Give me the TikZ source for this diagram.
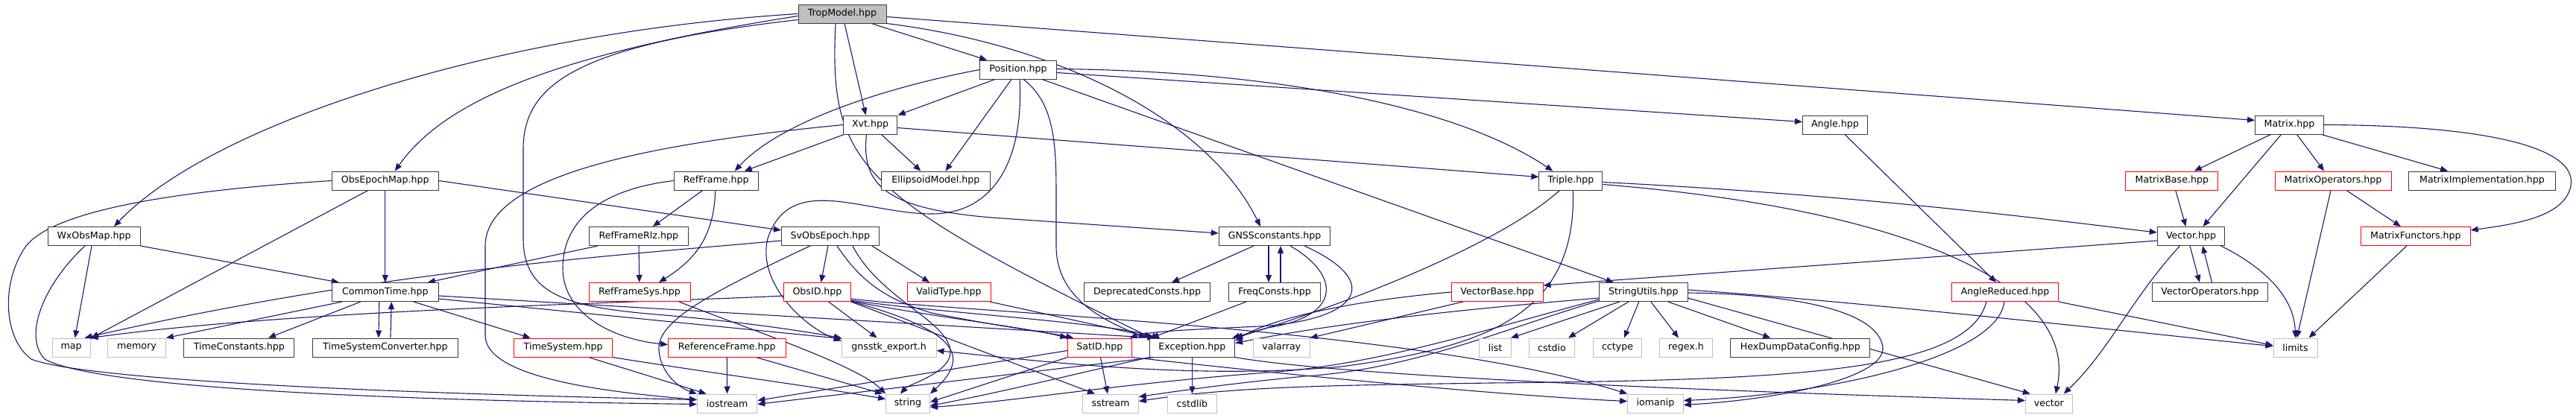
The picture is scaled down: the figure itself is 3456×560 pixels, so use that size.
\documentclass[tikz,border=0pt]{standalone}
\usepackage{fontspec}
\setmainfont{DejaVu Sans}
\usetikzlibrary{arrows.meta}
\definecolor{edgec}{HTML}{191970}
\definecolor{gbord}{HTML}{BFBFBF}
\definecolor{rbord}{HTML}{FF0000}
\definecolor{kbord}{HTML}{3A3A3A}
\definecolor{rootfill}{HTML}{BFBFBF}
\pgfdeclarelayer{bg}
\pgfsetlayers{bg,main}
\begin{document}
\begin{tikzpicture}[x=1pt,y=-1pt,
  kb/.style={draw=kbord, line width=1pt, minimum height=25pt, inner sep=0pt,
    font=\fontsize{12.6}{14}\selectfont, text=black, fill=white},
  rb/.style={kb, draw=rbord},
  gb/.style={kb, draw=gbord},
  rootn/.style={kb, fill=rootfill},
  e/.style={draw=edgec, line width=1.1pt, -{Triangle[length=10pt,width=8pt]}}]
\useasboundingbox (0,0) rectangle (3456,560);
% row 0
\node[rootn, minimum width=118] (T) at (1130,18.5) {TropModel.hpp};
% row 1
\node[kb, minimum width=102.5] (P) at (1366,93.5) {Position.hpp};
% row 2
\node[kb, minimum width=72] (X) at (1167.5,167.5) {Xvt.hpp};
\node[kb, minimum width=87] (Ang) at (2462,167.5) {Angle.hpp};
\node[kb, minimum width=92] (M) at (3071.5,167.5) {Matrix.hpp};
% row 3
\node[kb, minimum width=143] (OEM) at (516.8,242.5) {ObsEpochMap.hpp};
\node[kb, minimum width=113] (RF) at (960.7,242.5) {RefFrame.hpp};
\node[kb, minimum width=146] (EM) at (1255.4,242.5) {EllipsoidModel.hpp};
\node[kb, minimum width=85] (Tr) at (2107.4,242.5) {Triple.hpp};
\node[rb, minimum width=124] (MB) at (2913.8,242.5) {MatrixBase.hpp};
\node[rb, minimum width=156] (MO) at (3130,242.5) {MatrixOperators.hpp};
\node[kb, minimum width=196.5] (MI) at (3330,242.5) {MatrixImplementation.hpp};
% row 4
\node[kb, minimum width=124] (W) at (126,317) {WxObsMap.hpp};
\node[kb, minimum width=133.6] (RFR) at (856.8,317) {RefFrameRlz.hpp};
\node[kb, minimum width=131] (S) at (1113.9,317) {SvObsEpoch.hpp};
\node[kb, minimum width=149.5] (G) at (1710,317) {GNSSconstants.hpp};
\node[kb, minimum width=90.5] (V) at (2939.5,317) {Vector.hpp};
\node[rb, minimum width=146.7] (MF) at (3240.9,317) {MatrixFunctors.hpp};
% row 5
\node[kb, minimum width=143] (CT) at (516.8,392) {CommonTime.hpp};
\node[rb, minimum width=136] (RFS) at (858,392) {RefFrameSys.hpp};
\node[rb, minimum width=89.5] (O) at (1096.5,392) {ObsID.hpp};
\node[rb, minimum width=112] (VT) at (1273,392) {ValidType.hpp};
\node[kb, minimum width=169.5] (DC) at (1539,392) {DeprecatedConsts.hpp};
\node[kb, minimum width=122.7] (FC) at (1710,392) {FreqConsts.hpp};
\node[rb, minimum width=122.4] (VB) at (2008.8,392) {VectorBase.hpp};
\node[kb, minimum width=118.6] (SU) at (2204.8,392) {StringUtils.hpp};
\node[rb, minimum width=142.7] (AR) at (2690,392) {AngleReduced.hpp};
\node[kb, minimum width=155] (VO) at (2965,392) {VectorOperators.hpp};
% row 6
\node[gb, minimum width=51] (map) at (95.5,466.5) {map};
\node[gb, minimum width=77.7] (memory) at (183.5,466.5) {memory};
\node[kb, minimum width=148] (TC) at (320.9,466.5) {TimeConstants.hpp};
\node[kb, minimum width=195] (TSC) at (516.9,466.5) {TimeSystemConverter.hpp};
\node[rb, minimum width=131.6] (TS) at (755.6,466.5) {TimeSystem.hpp};
\node[rb, minimum width=157.6] (RefF) at (975.2,466.5) {ReferenceFrame.hpp};
\node[gb, minimum width=126.6] (GE) at (1192.7,466.5) {gnsstk\_export.h};
\node[rb, minimum width=85.3] (SID) at (1475.4,466.5) {SatID.hpp};
\node[kb, minimum width=114.4] (E) at (1599.4,466.5) {Exception.hpp};
\node[gb, minimum width=75.5] (VA) at (1719.3,466.5) {valarray};
\node[gb, minimum width=42.5] (list) at (2006,466.5) {list};
\node[gb, minimum width=61.6] (cstdio) at (2082,466.5) {cstdio};
\node[gb, minimum width=65.5] (cctype) at (2170,466.5) {cctype};
\node[gb, minimum width=70.8] (regex) at (2262,466.5) {regex.h};
\node[kb, minimum width=187] (HD) at (2415.3,466.5) {HexDumpDataConfig.hpp};
\node[gb, minimum width=59] (lim) at (3079.5,466.5) {limits};
% row 7
\node[gb, minimum width=80.4] (ios) at (975.6,541.5) {iostream};
\node[gb, minimum width=59] (str) at (1218,541.5) {string};
\node[gb, minimum width=74.6] (sst) at (1490,541.5) {sstream};
\node[gb, minimum width=65.4] (cstdlib) at (1599.4,541.5) {cstdlib};
\node[gb, minimum width=74.6] (iom) at (2221,541.5) {iomanip};
\node[gb, minimum width=62.7] (vec) at (2748.8,541.5) {vector};

\begin{pgfonlayer}{bg}
% TropModel
\draw[e] (T.west) .. controls (650,45) and (280,170) .. ([xshift=27]W.north);
\draw[e] ([yshift=-3]T.west) .. controls (760,70) and (600,130) .. ([xshift=13]OEM.north);
\draw[e] ([yshift=-8]T.west) .. controls (780,60) and (702,110) .. (702,200) -- (702,320) .. controls (702,395) and (760,412) .. (880,422) .. controls (1000,432) and (1080,445) .. (GE.north west);
\draw[e] ([xshift=3]T.south) -- ([xshift=-6]X.north);
\draw[e] ([xshift=-9]T.south) .. controls (1112,220) and (1150,260) .. ([xshift=3]E.north west);
\draw[e] ([xshift=39]T.south) -- ([xshift=-42]P.north);
\draw[e] (T.south east) .. controls (1420,60) and (1620,160) .. ([xshift=-19]G.north);
\draw[e] ([yshift=-4]T.east) -- ([yshift=6]M.west);
% Position
\draw[e] ([xshift=-31]P.south) -- ([xshift=37]X.north);
\draw[e] (P.west) .. controls (1200,115) and (1050,160) .. ([xshift=25]RF.north);
\draw[e] ([xshift=-9]P.south) -- ([xshift=13]EM.north);
\draw[e] ([xshift=2]P.south) .. controls (1374,220) and (1330,287) .. (1250,287) .. controls (1160,287) and (1060,230) .. (1030,320) .. controls (1015,380) and (1080,440) .. ([yshift=-4]GE.north west);
\draw[e] ([xshift=7]P.south) .. controls (1417,140) and (1417,200) .. (1417,270) -- (1417,330) .. controls (1417,400) and (1480,430) .. ([xshift=-4]E.north west);
\draw[e] ([xshift=32]P.south) -- ([xshift=-40]SU.north);
\draw[e] ([yshift=1]P.east) .. controls (1700,95) and (1950,140) .. ([xshift=-24]Tr.north);
\draw[e] ([yshift=-4]P.east) -- ([yshift=4]Ang.west);
% Xvt
\draw[e] ([xshift=-35]X.south) -- ([xshift=38]RF.north);
\draw[e] ([xshift=15]X.south) -- ([xshift=-20]EM.north);
\draw[e] ([yshift=-4]X.east) -- ([yshift=5]Tr.west);
\draw[e] ([xshift=-5]X.south) .. controls (1155,250) and (1190,280) .. (1330,292) -- ([yshift=4]G.west);
\draw[e] (X.west) .. controls (900,190) and (651,230) .. (651,330) -- (651,450) .. controls (651,505) and (800,525) .. ([yshift=5]ios.west);
% Angle
\draw[e] ([xshift=13]Ang.south) -- ([xshift=-12]AR.north);
% Matrix
\draw[e] ([xshift=-25]M.south) -- ([xshift=30]MB.north);
\draw[e] ([xshift=-11]M.south) -- ([xshift=16]V.north);
\draw[e] ([xshift=10]M.south) -- ([xshift=-12]MO.north);
\draw[e] ([xshift=43]M.south) -- ([xshift=-46]MI.north);
\draw[e] (M.east) .. controls (3300,168) and (3460,190) .. (3449,250) .. controls (3440,290) and (3380,300) .. ([yshift=8]MF.east);
\draw[e] ([xshift=5]MB.south) -- ([xshift=-7]V.north);
\draw[e] ([xshift=-3]MO.south) -- ([xshift=2]lim.north);
\draw[e] ([xshift=18]MO.south) -- ([xshift=-20]MF.north);
\draw[e] ([xshift=-12]MF.south) -- ([xshift=18]lim.north);
% Vector
\draw[e] ([xshift=-1.5]V.south) -- ([xshift=-14]VO.north);
\draw[e] ([xshift=2.5]VO.north) -- ([xshift=15.5]V.south);
\draw[e] ([xshift=40]V.south) .. controls (3040,360) and (3078,400) .. (lim.north);
\draw[e] ([xshift=-15]V.south) .. controls (2860,400) and (2830,470) .. ([xshift=20]vec.north);
\draw[e] ([yshift=-6]V.west) -- ([yshift=9]VB.east);
% Triple
\draw[e] ([yshift=-2]Tr.east) .. controls (2500,262) and (2750,295) .. ([yshift=5]V.west);
\draw[e] ([yshift=-5]Tr.east) .. controls (2550,280) and (2790,380) .. ([xshift=9]vec.north);
\draw[e] ([xshift=-15]Tr.south) .. controls (2010,330) and (1800,410) .. (E.north east);
\draw[e] ([xshift=3]Tr.south) .. controls (2115,420) and (2000,465) .. (1800,492) .. controls (1600,510) and (1400,485) .. ([yshift=-4]GE.east);
% GNSSconstants
\draw[e] ([xshift=-28]G.south) -- ([xshift=33]DC.north);
\draw[e] ([xshift=-8]G.south) -- ([xshift=-8]FC.north);
\draw[e] ([xshift=8]FC.north) -- ([xshift=8]G.south);
\draw[e] ([xshift=21]G.south) .. controls (1800,370) and (1800,425) .. (1700,440) -- ([xshift=-4]E.north east);
\draw[e] ([xshift=40]G.south) .. controls (1860,380) and (1820,430) .. (1690,438) .. controls (1600,442) and (1540,445) .. ([xshift=-3]SID.north east);
\draw[e] ([xshift=-38]FC.south) -- ([xshift=3]E.north west);
% WxObsMap
\draw[e] (W.south east) -- ([xshift=-62]CT.north);
\draw[e] ([xshift=-3]W.south) -- ([xshift=5]map.north);
\draw[e] ([xshift=-12]W.south) .. controls (60,380) and (30,450) .. (60,482) .. controls (110,510) and (350,535) .. ([yshift=-1]ios.west);
% ObsEpochMap
\draw[e] (OEM) -- (CT);
\draw[e] ([xshift=-23]OEM.south) -- ([xshift=27]map.north);
\draw[e] (OEM.east) -- ([yshift=8]S.west);
\draw[e] (OEM.west) .. controls (250,255) and (75,280) .. (35,330) .. controls (0,380) and (5,455) .. (42,482) .. controls (100,505) and (400,525) .. ([yshift=5]ios.west);
% RefFrame
\draw[e] ([xshift=-18]RF.south) -- ([xshift=19]RFR.north);
\draw[e] ([xshift=-1]RF.south) .. controls (958,320) and (930,350) .. ([xshift=26]RFS.north);
\draw[e] (RF.west) .. controls (800,255) and (755,300) .. (755,360) .. controls (755,420) and (820,455) .. ([yshift=4]RefF.west);
% RefFrameRlz
\draw[e] (RFR) -- (RFS);
\draw[e] ([xshift=-55]RFR.south) -- ([xshift=57]CT.north);
% RefFrameSys
\draw[e] ([xshift=53]RFS.south) .. controls (1000,440) and (1150,490) .. (str.north west);
% CommonTime
\draw[e] ([xshift=-58]CT.south) -- (memory.north east);
\draw[e] ([xshift=-33]CT.south) -- ([xshift=39]TC.north);
\draw[e] ([xshift=-8]CT.south) -- ([xshift=-9]TSC.north);
\draw[e] ([xshift=7]TSC.north) -- ([xshift=8.5]CT.south);
\draw[e] ([xshift=38]CT.south) -- ([xshift=-44]TS.north);
\draw[e] ([yshift=-9]CT.east) -- ([yshift=-1]GE.north west);
\draw[e] ([yshift=-5]CT.east) -- ([xshift=8]E.north west);
% TimeSystem
\draw[e] ([xshift=34]TS.south) -- ([xshift=-28]ios.north);
\draw[e] (TS.south east) .. controls (950,500) and (1100,520) .. ([yshift=6]str.west);
% ReferenceFrame
\draw[e] (RefF) -- (ios);
\draw[e] ([xshift=39]RefF.south) -- ([xshift=-4]str.north west);
% ObsID
\draw[e] ([yshift=-5]O.west) .. controls (900,405) and (400,415) .. (map.north east);
\draw[e] ([xshift=15]O.south) -- ([xshift=-16]GE.north);
\draw[e] ([yshift=-12]O.east) .. controls (1250,425) and (1380,440) .. (SID.north west);
\draw[e] ([yshift=-11]O.east) .. controls (1260,420) and (1480,432) .. ([xshift=14]E.north west);
\draw[e] ([yshift=-12.5]O.east) .. controls (1290,445) and (1300,480) .. (str.north east);
\draw[e] (O.south east) -- ([xshift=-21]sst.north);
\draw[e] ([yshift=-9]O.east) .. controls (1300,420) and (1900,440) .. (iom.north west);
% SvObsEpoch
\draw[e] ([xshift=-3]S.south) -- ([xshift=5]O.north);
\draw[e] ([xshift=56]S.south) -- ([xshift=-26]VT.north);
\draw[e] ([yshift=-6]S.west) .. controls (800,345) and (500,365) .. ([xshift=18]map.north);
\draw[e] ([xshift=-27]S.south) .. controls (960,390) and (880,430) .. (884,470) .. controls (886,500) and (910,520) .. (ios.north west);
\draw[e] ([xshift=9]S.south) .. controls (1150,370) and (1180,400) .. (1250,420) .. controls (1350,440) and (1400,445) .. ([xshift=8]SID.north west);
\draw[e] ([xshift=30]S.south) .. controls (1180,400) and (1270,430) .. (1275,470) .. controls (1278,500) and (1220,515) .. ([xshift=-10]str.north);
% ValidType
\draw[e] ([xshift=55]VT.south) -- ([xshift=-50]E.north);
% SatID
\draw[e] ([xshift=1]SID.south) -- ([xshift=-4]sst.north);
\draw[e] ([yshift=-4]SID.west) -- ([yshift=4]ios.east);
\draw[e] ([xshift=43]SID.south) .. controls (1700,500) and (2000,530) .. ([yshift=3]iom.west);
\draw[e] (SID.south west) -- ([yshift=2]str.east);
% Exception
\draw[e] (E) -- (cstdlib);
\draw[e] ([xshift=-57]E.south) .. controls (1450,500) and (1350,525) .. ([yshift=-3]str.east);
\draw[e] ([xshift=-50]E.south) -- ([yshift=-1]ios.east);
\draw[e] (E.south east) .. controls (1800,505) and (2300,525) .. ([yshift=4]vec.west);
% VectorBase
\draw[e] (VB.west) .. controls (1800,405) and (1700,430) .. ([yshift=-4]E.north east);
\draw[e] ([xshift=-46]VB.south) -- (VA.north east);
% StringUtils
\draw[e] ([xshift=-32]SU.south) -- ([xshift=21]list.north);
\draw[e] ([xshift=-20]SU.south) -- ([xshift=22]cstdio.north);
\draw[e] ([xshift=-6]SU.south) -- ([xshift=9]cctype.north);
\draw[e] ([xshift=10]SU.south) -- ([xshift=-10]regex.north);
\draw[e] ([xshift=33]SU.south) -- ([xshift=-40]HD.north);
\draw[e] ([yshift=-1]SU.east) .. controls (2420,395) and (2520,420) .. (2526,466) .. controls (2530,505) and (2400,535) .. ([yshift=-2]iom.east);
\draw[e] ([yshift=-8]SU.east) -- ([xshift=-25]vec.north);
\draw[e] ([yshift=3]SU.east) .. controls (2500,405) and (2900,450) .. ([yshift=2]lim.west);
\draw[e] ([yshift=-8]SU.west) .. controls (1900,420) and (1760,440) .. ([yshift=6]E.east);
\draw[e] ([yshift=-10]SU.west) .. controls (2000,440) and (1850,490) .. (1700,500) .. controls (1500,515) and (1350,540) .. ([yshift=-5]str.east);
\draw[e] ([yshift=-12]SU.west) .. controls (2020,440) and (1900,495) .. (1750,505) .. controls (1650,515) and (1600,522) .. ([yshift=9]sst.east);
% AngleReduced
\draw[e] (AR.south east) -- ([yshift=3]lim.west);
\draw[e] ([xshift=-1]AR.south) .. controls (2680,480) and (2450,530) .. ([yshift=4]iom.east);
\draw[e] ([xshift=-25]AR.south) .. controls (2640,500) and (2400,510) .. (2000,514) .. controls (1800,517) and (1660,518) .. ([yshift=3]sst.east);
\end{pgfonlayer}
\end{tikzpicture}
\end{document}
